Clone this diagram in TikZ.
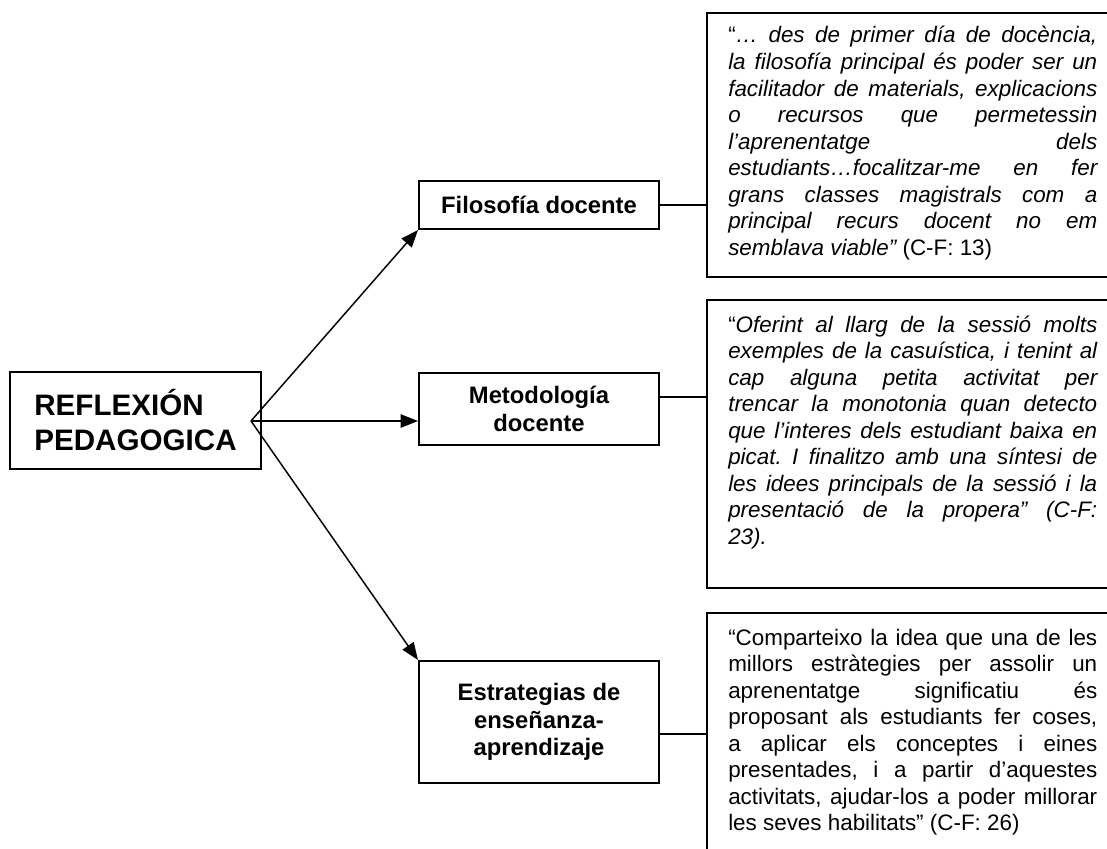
\documentclass[tikz,border=0pt]{standalone}
\usepackage{fontspec}
\setmainfont{Liberation Sans}
\usetikzlibrary{arrows.meta,fit}
\frenchspacing

% width of the justified quotation lines
\newlength\qwidth
\setlength\qwidth{276.75pt}
% one justified line and one ragged (closing) line
\newcommand\qjust[1]{\hbox to \qwidth{#1}}
\newcommand\qlast[1]{\hbox{#1}}
\newcommand\quotefont{\fontsize{16.8pt}{19.9pt}\selectfont}

\tikzset{
  frame/.style={draw, line width=1.5pt, inner sep=0pt},
  topic/.style={frame, font=\bfseries\fontsize{17.85pt}{20.6pt}\selectfont,
                align=center, minimum width=180pt},
  link/.style={line width=1.1pt},
  branch/.style={line width=1.1pt, -{Triangle[length=13pt,width=10pt]}},
  quote/.style={anchor=base west, inner sep=0pt},
}

\begin{document}
\begin{tikzpicture}[x=0.75pt, y=-0.75pt]
  \useasboundingbox (0,0) rectangle (1107,849);
  \clip (0,0) rectangle (1107,849);

  % central concept
  \node[frame, minimum width=188.25pt, minimum height=72.75pt, align=left,
        font=\bfseries\fontsize{22.2pt}{26.25pt}\selectfont] (root)
        at (135.5,420.5) {REFLEXIÓN\\PEDAGOGICA};
  \coordinate (hub) at (251,421);

  % three dimensions
  \node[topic, minimum height=36pt] (filo) at (539,205) {Filosofía docente};
  \node[topic, minimum height=54pt] (meto) at (539,409) {Metodología\\docente};
  \node[topic, minimum height=91.5pt] (estr) at (539,722)
        {Estrategias de\\enseñanza-\\aprendizaje};

  % quotation frames (open on the right)
  \node[frame, fit={(707,13)(1125,277)}] (q1) {};
  \node[frame, fit={(707,300)(1125,588)}] (q2) {};
  \node[frame, fit={(707,613)(1125,880)}] (q3) {};

  % branches
  \draw[branch] (hub) -- (filo.south west);
  \draw[branch] (hub) -- (hub -| meto.west);
  \draw[branch] (hub) -- (estr.north west);

  % links to the quotations
  \draw[link] (filo.east) -- (filo.east -| q1.west);
  \draw[link] ([yshift=9pt]meto.east) -- ([yshift=9pt]meto.east -| q2.west);
  \draw[link] ([yshift=-9pt]estr.east) -- ([yshift=-9pt]estr.east -| q3.west);

  % quotations
  \node[quote] (t1) at (728,43) {\vtop{\quotefont\itshape
    \qjust{\upshape“\itshape… des de primer día de docència,}
    \qjust{la filosofía principal és poder ser un}
    \qjust{facilitador de materials, explicacions}
    \qjust{o recursos que permetessin}
    \qjust{l’aprenentatge dels}
    \qjust{estudiants…focalitzar-me en fer}
    \qjust{grans classes magistrals com a}
    \qjust{principal recurs docent no em}
    \qlast{semblava viable” \upshape(C-F: 13)}}};

  \node[quote] (t2) at (728,332) {\vtop{\quotefont\itshape
    \qjust{\upshape“\itshape Oferint al llarg de la sessió molts}
    \qjust{exemples de la casuística, i tenint al}
    \qjust{cap alguna petita activitat per}
    \qjust{trencar la monotonia quan detecto}
    \qjust{que l’interes dels estudiant baixa en}
    \qjust{picat. I finalitzo amb una síntesi de}
    \qjust{les idees principals de la sessió i la}
    \qjust{presentació de la propera” (C-F:}
    \qlast{23).}}};

  \node[quote] (t3) at (728,645) {\vtop{\quotefont
    \qjust{“Comparteixo la idea que una de les}
    \qjust{millors estràtegies per assolir un}
    \qjust{aprenentatge significatiu és}
    \qjust{proposant als estudiants fer coses,}
    \qjust{a aplicar els conceptes i eines}
    \qjust{presentades, i a partir d’aquestes}
    \qjust{activitats, ajudar-los a poder millorar}
    \qlast{les seves habilitats” (C-F: 26)}}};
\end{tikzpicture}
\end{document}
